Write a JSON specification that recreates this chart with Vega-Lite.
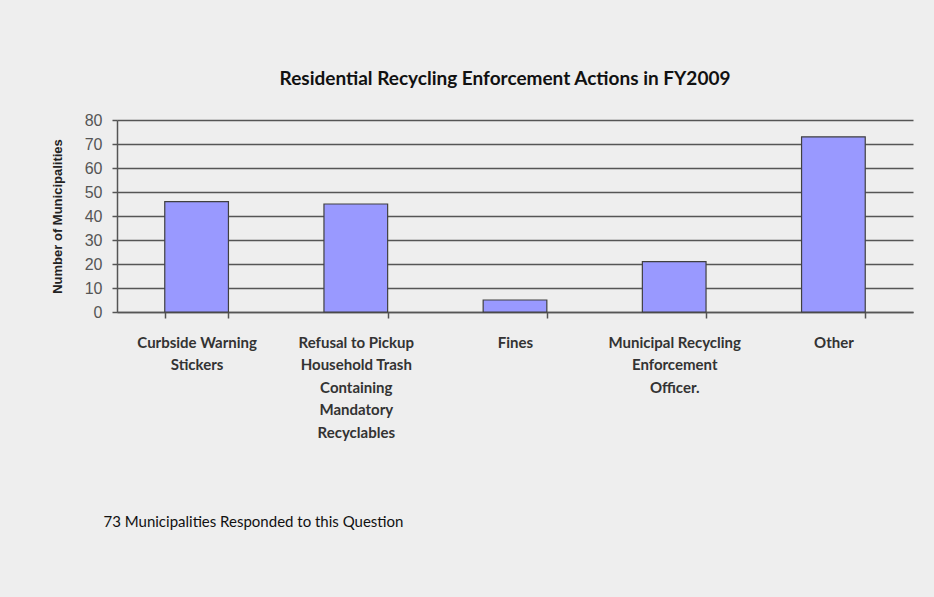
{
  "$schema": "https://vega.github.io/schema/vega-lite/v6.json",
  "autosize": "none",
  "width": 796,
  "height": 192,
  "padding": {"left": 117, "top": 120, "right": 21, "bottom": 285},
  "background": "#eeeeee",
  "title": {
    "text": "Residential  Recycling Enforcement Actions  in FY2009",
    "font": "Lato",
    "fontSize": 19,
    "fontWeight": "bold",
    "color": "#111111",
    "anchor": "middle",
    "dx": -10,
    "offset": 23
  },
  "data": {
    "values": [
      {"action": "Curbside Warning\nStickers", "count": 46},
      {"action": "Refusal to Pickup\nHousehold Trash\nContaining\nMandatory\nRecyclables", "count": 45},
      {"action": "Fines", "count": 5},
      {"action": "Municipal  Recycling\nEnforcement\nOfficer.", "count": 21},
      {"action": "Other", "count": 73}
    ]
  },
  "mark": {"type": "bar", "color": "#9999ff", "stroke": "#404040", "strokeWidth": 1.2},
  "encoding": {
    "x": {
      "field": "action",
      "type": "nominal",
      "sort": null,
      "scale": {"paddingInner": 0.6, "paddingOuter": 0.3},
      "axis": {
        "title": "73 Municipalities  Responded to this Question",
        "titleFont": "Lato",
        "titleFontSize": 15,
        "titleFontWeight": "normal",
        "titleColor": "#111111",
        "titleAnchor": "start",
        "titleAlign": "left",
        "titleBaseline": "middle",
        "titleX": -14,
        "titleY": 209,
        "labelAngle": 0,
        "labelExpr": "isValid(datum.value) ? split(datum.value, '\\n') : ''",
        "labelFont": "Lato",
        "labelFontSize": 15,
        "labelFontWeight": "bold",
        "labelColor": "#333333",
        "labelLineHeight": 22.5,
        "labelPadding": 17,
        "labelBaseline": "top",
        "tickBand": "extent",
        "tickSize": 6,
        "tickColor": "#555555",
        "domainColor": "#555555",
        "domainWidth": 1.5,
        "tickWidth": 1.5,
        "grid": false
      }
    },
    "y": {
      "field": "count",
      "type": "quantitative",
      "scale": {"domain": [0, 80]},
      "axis": {
        "title": "Number of Municipalities",
        "titleFont": "Liberation Sans",
        "titleFontSize": 13,
        "titleFontWeight": "bold",
        "titleColor": "#222222",
        "titleX": -60,
        "titleY": 96,
        "titleAngle": 270,
        "titleAlign": "center",
        "titleBaseline": "middle",
        "values": [0, 10, 20, 30, 40, 50, 60, 70, 80],
        "labelFont": "Liberation Sans",
        "labelFontSize": 16,
        "labelColor": "#555555",
        "labelPadding": 10,
        "tickSize": 5,
        "tickColor": "#555555",
        "tickWidth": 1.5,
        "domainColor": "#555555",
        "domainWidth": 1.5,
        "grid": true,
        "gridColor": "#555555",
        "gridWidth": 1.5
      }
    }
  },
  "config": {
    "view": {"stroke": null}
  }
}
